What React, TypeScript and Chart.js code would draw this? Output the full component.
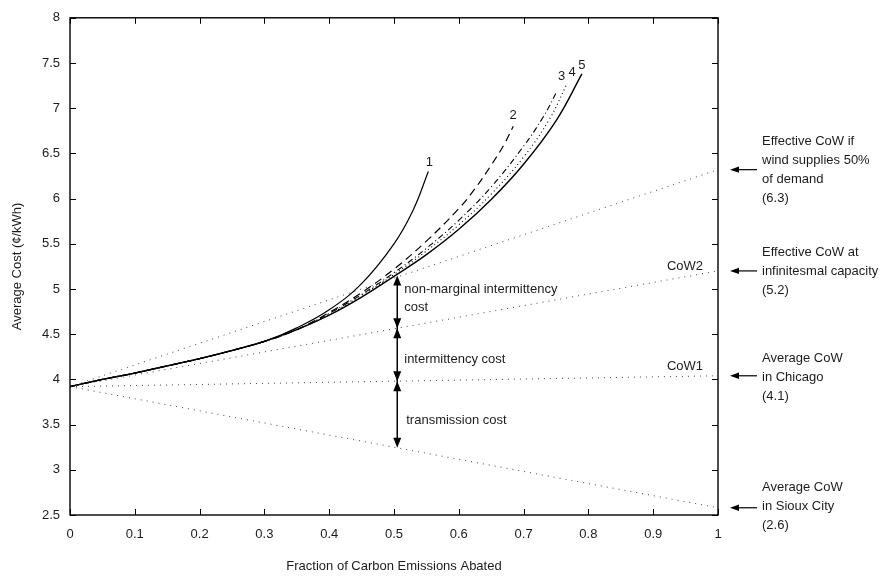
import React, { useEffect, useRef } from 'react';
import { Chart, registerables } from 'chart.js';

Chart.register(...registerables);

// ---------- data ----------
const xTicks = [0, 0.1, 0.2, 0.3, 0.4, 0.5, 0.6, 0.7, 0.8, 0.9, 1];
const yTicks = [2.5, 3, 3.5, 4, 4.5, 5, 5.5, 6, 6.5, 7, 7.5, 8];

const curve1X = [0, 0.05, 0.1, 0.15, 0.2, 0.25, 0.3, 0.35, 0.4, 0.45, 0.5, 0.53, 0.553];
const curve1Y = [3.92, 4.0, 4.07, 4.15, 4.23, 4.32, 4.42, 4.57, 4.77, 5.06, 5.5, 5.88, 6.3];

const curve2X = [0, 0.05, 0.1, 0.15, 0.2, 0.25, 0.3, 0.35, 0.4, 0.45, 0.5, 0.55, 0.6, 0.625, 0.65, 0.67, 0.684];
const curve2Y = [3.92, 4.0, 4.07, 4.15, 4.23, 4.32, 4.42, 4.55, 4.74, 4.96, 5.22, 5.53, 5.89, 6.11, 6.37, 6.6, 6.8];

const curve3X = [0, 0.05, 0.1, 0.15, 0.2, 0.25, 0.3, 0.35, 0.4, 0.45, 0.5, 0.55, 0.6, 0.65, 0.7, 0.73, 0.751];
const curve3Y = [3.92, 4.0, 4.07, 4.15, 4.23, 4.32, 4.42, 4.55, 4.73, 4.94, 5.18, 5.45, 5.76, 6.13, 6.58, 6.9, 7.18];

const curve4X = [0, 0.05, 0.1, 0.15, 0.2, 0.25, 0.3, 0.35, 0.4, 0.45, 0.5, 0.55, 0.6, 0.65, 0.7, 0.74, 0.767];
const curve4Y = [3.92, 4.0, 4.07, 4.15, 4.23, 4.32, 4.42, 4.55, 4.72, 4.93, 5.16, 5.42, 5.71, 6.05, 6.46, 6.88, 7.27];

const curve5X = [0, 0.05, 0.1, 0.15, 0.2, 0.25, 0.3, 0.35, 0.4, 0.45, 0.5, 0.55, 0.6, 0.65, 0.7, 0.75, 0.79];
const curve5Y = [3.92, 4.0, 4.07, 4.15, 4.23, 4.32, 4.42, 4.55, 4.71, 4.91, 5.14, 5.38, 5.66, 5.99, 6.38, 6.86, 7.38];

const curveLabels = ['1', '2', '3', '4', '5'];

// straight dotted CoW lines: from (0, cowStart) to (1, cowEnds[i])
const cowStart = 3.92;
const cowEnds = [6.32, 5.2, 4.04, 2.58];
const cowLineNames = ['', 'CoW2', 'CoW1', ''];
const sideLabels = [
  ['Effective CoW if', 'wind supplies 50%', 'of demand', '(6.3)'],
  ['Effective CoW at', 'infinitesmal capacity', '(5.2)'],
  ['Average CoW', 'in Chicago', '(4.1)'],
  ['Average CoW', 'in Sioux City', '(2.6)'],
];

// vertical cost-breakdown annotation
const breakdownX = 0.505;
const breakdownTop = 5.15;
const breakdownTexts = [
  ['non-marginal intermittency', 'cost'],
  ['intermittency cost'],
  ['transmission cost'],
];

const xTitle = 'Fraction of Carbon Emissions Abated';
const yTitle = 'Average Cost (\u00a2/kWh)';

// ---------- styling ----------
const FONT = '"Liberation Sans", Arial, Helvetica, sans-serif';
const TXT = '#1c1c1c';
const curveDash: number[][] = [[], [8, 5], [6, 3, 1, 3], [1, 3], []];
const curveWidth = [1.2, 1.2, 1.1, 1.1, 1.4];
const labelOffset = [[1, -9], [0, -11], [5, -16], [5, -11], [0, -8]];
const sideArrowLineIndex = [1.5, 0.95, 0.9, 1.05];

function zip(xs: number[], ys: number[]) {
  return xs.map((x, i) => ({ x, y: ys[i] }));
}

const curvesX = [curve1X, curve2X, curve3X, curve4X, curve5X];
const curvesY = [curve1Y, curve2Y, curve3Y, curve4Y, curve5Y];

function cowAt(i: number, x: number) {
  return cowStart + (cowEnds[i] - cowStart) * x;
}

function arrowHead(ctx: CanvasRenderingContext2D, tx: number, ty: number, dx: number, dy: number, len: number, half: number) {
  const bx = tx - dx * len;
  const by = ty - dy * len;
  const px = -dy;
  const py = dx;
  ctx.beginPath();
  ctx.moveTo(tx, ty);
  ctx.lineTo(bx + px * half, by + py * half);
  ctx.lineTo(bx - px * half, by - py * half);
  ctx.closePath();
  ctx.fill();
}

const overlay = {
  id: 'overlay',
  afterDatasetsDraw(chart: any) {
    const { ctx, chartArea: a, scales } = chart;
    const xs = scales.x;
    const ys = scales.y;
    ctx.save();

    // frame
    ctx.strokeStyle = '#000';
    ctx.lineWidth = 1.4;
    ctx.strokeRect(a.left, a.top, a.right - a.left, a.bottom - a.top);

    // inward ticks
    const tl = 6;
    ctx.lineWidth = 1;
    ctx.beginPath();
    xTicks.forEach((v) => {
      const px = Math.round(xs.getPixelForValue(v)) + 0.5;
      ctx.moveTo(px, a.bottom);
      ctx.lineTo(px, a.bottom - tl);
      ctx.moveTo(px, a.top);
      ctx.lineTo(px, a.top + tl);
    });
    yTicks.forEach((v) => {
      const py = Math.round(ys.getPixelForValue(v)) + 0.5;
      ctx.moveTo(a.left, py);
      ctx.lineTo(a.left + tl, py);
      ctx.moveTo(a.right, py);
      ctx.lineTo(a.right - tl, py);
    });
    ctx.stroke();

    ctx.fillStyle = TXT;
    ctx.font = `13px ${FONT}`;
    ctx.textBaseline = 'middle';

    // curve labels
    ctx.textAlign = 'center';
    curvesX.forEach((cx, i) => {
      const cy = curvesY[i];
      const px = xs.getPixelForValue(cx[cx.length - 1]) + labelOffset[i][0];
      const py = ys.getPixelForValue(cy[cy.length - 1]) + labelOffset[i][1];
      ctx.fillText(curveLabels[i], px, py);
    });

    // CoW names on lines
    ctx.textAlign = 'right';
    cowLineNames.forEach((n, i) => {
      if (!n) return;
      const py = ys.getPixelForValue(cowAt(i, 0.98)) + (i === 1 ? -7 : -10);
      ctx.fillText(n, a.right - 15, py);
    });

    // side arrows + labels
    ctx.textAlign = 'left';
    ctx.fillStyle = '#000';
    ctx.strokeStyle = '#000';
    ctx.lineWidth = 1.2;
    cowEnds.forEach((v, i) => {
      const py = ys.getPixelForValue(v);
      const tipX = a.right + 12;
      ctx.beginPath();
      ctx.moveTo(tipX + 4, py);
      ctx.lineTo(tipX + 27, py);
      ctx.stroke();
      arrowHead(ctx, tipX, py, -1, 0, 9, 3.2);
      const lines = sideLabels[i];
      ctx.fillStyle = TXT;
      lines.forEach((t, j) => {
        ctx.fillText(t, tipX + 32, py + (j - sideArrowLineIndex[i]) * 19);
      });
      ctx.fillStyle = '#000';
    });

    // vertical breakdown arrows
    const bx = xs.getPixelForValue(breakdownX);
    const yTop = ys.getPixelForValue(breakdownTop);
    const y2 = ys.getPixelForValue(cowAt(1, breakdownX));
    const y1 = ys.getPixelForValue(cowAt(2, breakdownX));
    const yB = ys.getPixelForValue(cowAt(3, breakdownX));
    ctx.lineWidth = 1.5;
    ctx.beginPath();
    ctx.moveTo(bx, yTop + 4);
    ctx.lineTo(bx, yB - 4);
    ctx.stroke();
    const L = 10;
    const H = 4;
    arrowHead(ctx, bx, yTop, 0, -1, L, H);
    arrowHead(ctx, bx, y2, 0, 1, L, H);
    arrowHead(ctx, bx, y2, 0, -1, L, H);
    arrowHead(ctx, bx, y1, 0, 1, L, H);
    arrowHead(ctx, bx, y1, 0, -1, L, H);
    arrowHead(ctx, bx, yB, 0, 1, L, H);

    ctx.fillStyle = TXT;
    ctx.textAlign = 'left';
    const tx = bx + 7;
    ctx.fillText(breakdownTexts[0][0], tx, yTop + 14);
    ctx.fillText(breakdownTexts[0][1], tx, yTop + 32);
    ctx.fillText(breakdownTexts[1][0], tx, (y2 + y1) / 2 + 5);
    ctx.fillText(breakdownTexts[2][0], tx + 2, (y1 + yB) / 2 + 6);

    // axis titles
    ctx.textAlign = 'center';
    ctx.fillText(xTitle, (a.left + a.right) / 2, 566);
    ctx.save();
    ctx.translate(17, (a.top + a.bottom) / 2);
    ctx.rotate(-Math.PI / 2);
    ctx.fillText(yTitle, 0, 0);
    ctx.restore();

    ctx.restore();
  },
};

export default function App() {
  const ref = useRef<HTMLCanvasElement | null>(null);

  useEffect(() => {
    if (!ref.current) return;
    const datasets: any[] = [];
    cowEnds.forEach((v) => {
      datasets.push({
        data: [
          { x: 0, y: cowStart },
          { x: 1, y: v },
        ],
        borderColor: '#444',
        borderWidth: 1,
        borderDash: [1, 5],
        pointRadius: 0,
        fill: false,
        tension: 0,
      });
    });
    curvesX.forEach((cx, i) => {
      datasets.push({
        data: zip(cx, curvesY[i]),
        borderColor: '#000',
        borderWidth: curveWidth[i],
        borderDash: curveDash[i],
        pointRadius: 0,
        fill: false,
        tension: 0.4,
      });
    });

    const tickFont = { family: FONT, size: 13 };
    const chart = new Chart(ref.current, {
      type: 'line',
      data: { datasets },
      options: {
        responsive: false,
        animation: false,
        events: [],
        layout: { padding: { left: 0, right: 178, top: 13, bottom: 0 } },
        plugins: { legend: { display: false }, tooltip: { enabled: false } },
        scales: {
          x: {
            type: 'linear',
            min: 0,
            max: 1,
            afterBuildTicks: (s: any) => {
              s.ticks = xTicks.map((v) => ({ value: v }));
            },
            afterFit: (s: any) => {
              s.height = 66;
            },
            grid: { display: false, drawTicks: false },
            border: { display: false },
            ticks: {
              padding: 12,
              font: tickFont,
              color: TXT,
              maxRotation: 0,
              autoSkip: false,
              callback: (v: any) => String(v),
            },
          },
          y: {
            type: 'linear',
            min: 2.5,
            max: 8,
            afterBuildTicks: (s: any) => {
              s.ticks = yTicks.map((v) => ({ value: v }));
            },
            afterFit: (s: any) => {
              s.width = 70;
            },
            grid: { display: false, drawTicks: false },
            border: { display: false },
            ticks: {
              padding: 10,
              font: tickFont,
              color: TXT,
              autoSkip: false,
              callback: (v: any) => String(v),
            },
          },
        },
      },
      plugins: [overlay],
    } as any);
    return () => chart.destroy();
  }, []);

  return (
    <div style={{ position: 'fixed', left: 0, top: 0, width: 896, height: 581, background: '#fff' }}>
      <canvas ref={ref} width={896} height={581} style={{ display: 'block' }} />
    </div>
  );
}
